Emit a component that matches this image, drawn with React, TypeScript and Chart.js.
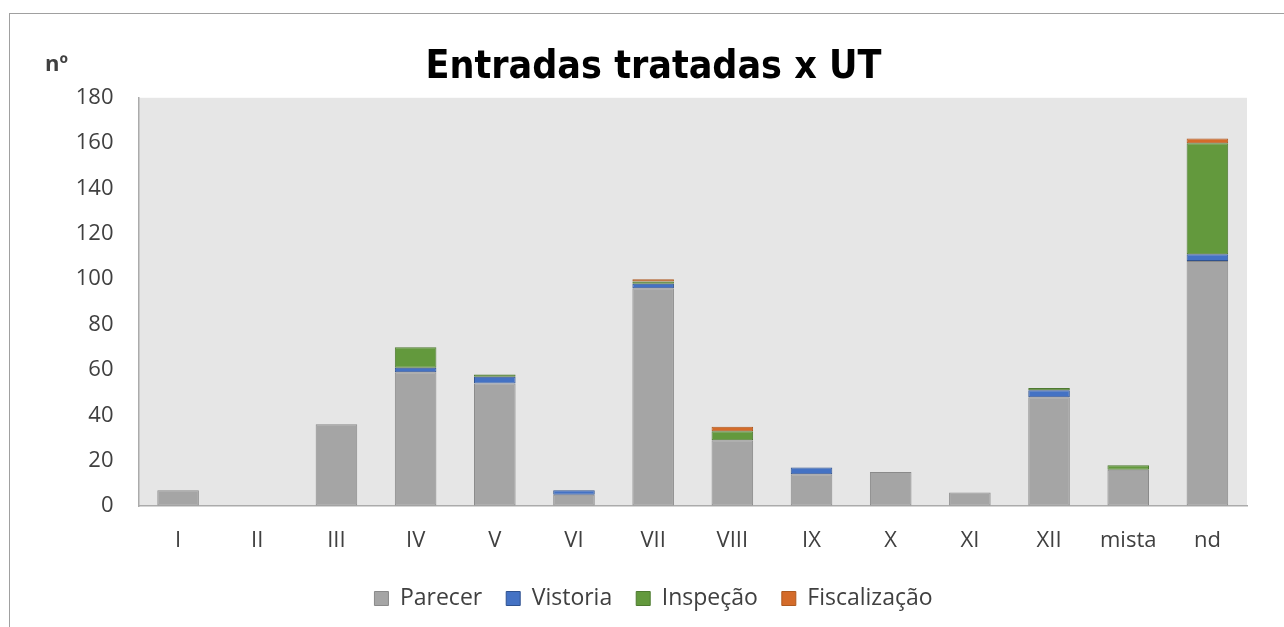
import React, { useEffect, useRef } from "react";
import { Chart, registerables } from "chart.js";

Chart.register(...registerables);

const categories = ["I", "II", "III", "IV", "V", "VI", "VII", "VIII", "IX", "X", "XI", "XII", "mista", "nd"];
const parecer = [7, 0, 36, 59, 54, 5, 96, 29, 14, 15, 6, 48, 16, 108];
const vistoria = [0, 0, 0, 2, 3, 2, 2, 0, 3, 0, 0, 3, 0, 3];
const inspecao = [0, 0, 0, 9, 1, 0, 1, 4, 0, 0, 0, 1, 2, 49];
const fiscalizacao = [0, 0, 0, 0, 0, 0, 1, 2, 0, 0, 0, 0, 0, 2];
const yTicks = [0, 20, 40, 60, 80, 100, 120, 140, 160, 180];

const TITLE = "Entradas tratadas x UT";
const Y_LABEL = "nº";
const FONT = '"Open Sans", "Noto Sans", sans-serif';
const TEXT = "#404040";

const nz = (a: number[]) => a.map((v) => (v === 0 ? null : v));

export default function App() {
  const ref = useRef<HTMLCanvasElement | null>(null);

  useEffect(() => {
    if (!ref.current) return;
    const bgPlugin = {
      id: "plotBg",
      beforeDraw(chart: any) {
        const { ctx, chartArea } = chart;
        ctx.save();
        ctx.fillStyle = "#e6e6e6";
        ctx.fillRect(chartArea.left, chartArea.top, chartArea.right - chartArea.left, chartArea.bottom - chartArea.top);
        ctx.restore();
      },
      afterDraw(chart: any) {
        const { ctx } = chart;
        ctx.save();
        ctx.fillStyle = TEXT;
        ctx.font = `bold 22px ${FONT}`;
        ctx.textBaseline = "alphabetic";
        ctx.textAlign = "left";
        ctx.fillText(Y_LABEL, 35, 57);
        ctx.restore();
      },
    };

    const mk = (label: string, data: number[], bg: string, border: string) => ({
      label,
      data: nz(data),
      backgroundColor: bg,
      borderColor: border,
      borderWidth: 1,
      borderSkipped: false,
      categoryPercentage: 1,
      barPercentage: 0.525,
    });

    const chart = new Chart(ref.current, {
      type: "bar",
      data: {
        labels: categories,
        datasets: [
          mk("Parecer", parecer, "#a5a5a5", "#8a8a8a"),
          mk("Vistoria", vistoria, "#4472c4", "#2f528f"),
          mk("Inspeção", inspecao, "#63993d", "#4e7a31"),
          mk("Fiscalização", fiscalizacao, "#d46b2a", "#ae5a21"),
        ],
      },
      options: {
        animation: false,
        responsive: false,
        maintainAspectRatio: false,
        layout: { padding: { left: 12, right: 0, top: 0, bottom: 12 } },
        plugins: {
          tooltip: { enabled: false },
          title: {
            display: true,
            text: TITLE,
            color: "#000000",
            font: { family: '"DejaVu Sans Condensed", "Liberation Sans Narrow", sans-serif', size: 39, weight: "bold" },
            padding: { top: 30, bottom: 7 },
          },
          legend: {
            position: "bottom",
            labels: {
              color: TEXT,
              font: { family: FONT, size: 23 },
              boxWidth: 14,
              boxHeight: 14,
              padding: 24,
            },
          },
        },
        scales: {
          x: {
            stacked: true,
            grid: { display: true, color: "transparent", drawTicks: false },
            border: { display: true, color: "#ababab", width: 1.5 },
            ticks: { color: TEXT, font: { family: FONT, size: 22 }, padding: 22, maxRotation: 0 },
            afterFit(scale: any) {
              scale.height = 57;
            },
          },
          y: {
            stacked: true,
            min: 0,
            max: 180,
            grid: { display: true, color: "transparent", drawTicks: false },
            border: { display: true, color: "#ababab", width: 1.5 },
            afterBuildTicks(scale: any) {
              scale.ticks = yTicks.map((v) => ({ value: v }));
            },
            ticks: { color: TEXT, font: { family: FONT, size: 22 }, padding: 25 },
            afterFit(scale: any) {
              scale.width = 116.5;
            },
          },
          yRightSpace: {
            type: "linear",
            position: "right",
            display: true,
            grid: { display: false, drawTicks: false },
            border: { display: false },
            ticks: { display: false },
            afterFit(scale: any) {
              scale.width = 38;
            },
          },
        },
      },
      plugins: [bgPlugin],
    });
    return () => chart.destroy();
  }, []);

  return (
    <div
      style={{
        position: "fixed",
        left: 9,
        top: 13,
        width: 1275,
        height: 618,
        borderTop: "1px solid #a0a0a0",
        borderLeft: "1px solid #a0a0a0",
        background: "#ffffff",
      }}
    >
      <canvas ref={ref} width={1275} height={618} style={{ display: "block" }} />
    </div>
  );
}
